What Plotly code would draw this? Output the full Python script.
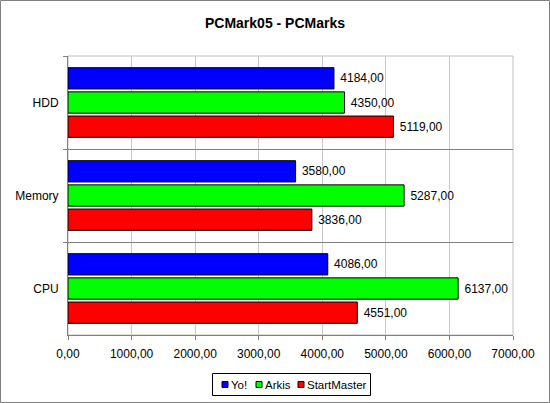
import plotly.graph_objects as go

categories = ["HDD", "Memory", "CPU"]
series_names = ["Yo!", "Arkis", "StartMaster"]
yo_values = [4184, 3580, 4086]
arkis_values = [4350, 5287, 6137]
startmaster_values = [5119, 3836, 4551]
series_colors = ["#0000FF", "#00FF00", "#FF0000"]
x_ticks = [0, 1000, 2000, 3000, 4000, 5000, 6000, 7000]

W, H = 550, 403
ML, MR, MT, MB = 68, 37, 56, 68
PW, PH = W - ML - MR, H - MT - MB

font = "Liberation Sans, Arial, sans-serif"


def px_x(px):
    return (px - ML) / PW


def px_y(py):
    return 1 - (py - MT) / PH


fig = go.Figure()
for name, vals, col in zip(series_names, [yo_values, arkis_values, startmaster_values], series_colors):
    fig.add_trace(go.Bar(
        y=categories, x=vals, name=name, orientation="h",
        marker=dict(color=col, line=dict(color="#000000", width=1)),
        texttemplate=" %{x:.2f}", textposition="outside",
        textfont=dict(family=font, size=12, color="#000000"),
        cliponaxis=False, hoverinfo="skip", showlegend=False,
    ))

shapes = [
    dict(type="rect", xref="paper", yref="paper", x0=0, x1=1, y0=0, y1=1,
         line=dict(color="#C0C0C0", width=1), fillcolor="rgba(0,0,0,0)", layer="below"),
    dict(type="rect", xref="paper", yref="paper",
         x0=px_x(0.5), x1=px_x(W - 0.5), y0=px_y(H - 0.5), y1=px_y(0.5),
         line=dict(color="#808080", width=1), fillcolor="rgba(0,0,0,0)", layer="above"),
    # legend box
    dict(type="rect", xref="paper", yref="paper",
         x0=px_x(212.5), x1=px_x(370.5), y0=px_y(395.5), y1=px_y(373.5),
         line=dict(color="#000000", width=1), fillcolor="#FFFFFF", layer="above"),
]
annotations = []
legend_sym_x = [225, 259, 301]
legend_y = 384.5
for name, col, sx in zip(series_names, series_colors, legend_sym_x):
    shapes.append(dict(type="rect", xref="paper", yref="paper",
                       x0=px_x(sx - 3), x1=px_x(sx + 3), y0=px_y(legend_y + 3), y1=px_y(legend_y - 3),
                       line=dict(color="#000000", width=1), fillcolor=col, layer="above"))
    annotations.append(dict(text=name, xref="paper", yref="paper", x=px_x(sx + 4), y=px_y(legend_y),
                            xanchor="left", yanchor="middle", showarrow=False,
                            font=dict(family=font, size=11.5, color="#000000")))

fig.update_layout(
    width=W, height=H,
    margin=dict(l=ML, r=MR, t=MT, b=MB),
    paper_bgcolor="#FFFFFF", plot_bgcolor="#FFFFFF",
    separators=",.",
    barmode="group", bargap=0.22, bargroupgap=0.12,
    font=dict(family=font, size=12, color="#000000"),
    title=dict(text="<b>PCMark05 - PCMarks</b>", x=0.5, xref="container", xanchor="center",
               y=1 - 23 / H, yref="container", yanchor="middle",
               font=dict(family=font, size=14, color="#000000")),
    xaxis=dict(range=[0, 7000], tickvals=x_ticks, tickformat=".2f",
               showgrid=True, gridcolor="#C8C8C8", gridwidth=1,
               showline=True, linecolor="#808080", linewidth=1,
               ticks="outside", ticklen=4, tickcolor="#808080",
               zeroline=False, ticklabelstandoff=4,
               tickfont=dict(family=font, size=12, color="#000000")),
    yaxis=dict(categoryorder="array", categoryarray=categories, autorange="reversed",
               tickson="boundaries", showgrid=True, gridcolor="#808080", gridwidth=1,
               showline=True, linecolor="#808080", linewidth=1,
               ticks="outside", ticklen=4, tickcolor="#808080",
               ticklabelstandoff=6,
               tickfont=dict(family=font, size=12, color="#000000")),
    showlegend=False,
    shapes=shapes,
    annotations=annotations,
)

fig.write_html("out.html", config={"displayModeBar": False, "staticPlot": True},
               post_script="document.body.style.margin='0';document.body.style.padding='0';")
